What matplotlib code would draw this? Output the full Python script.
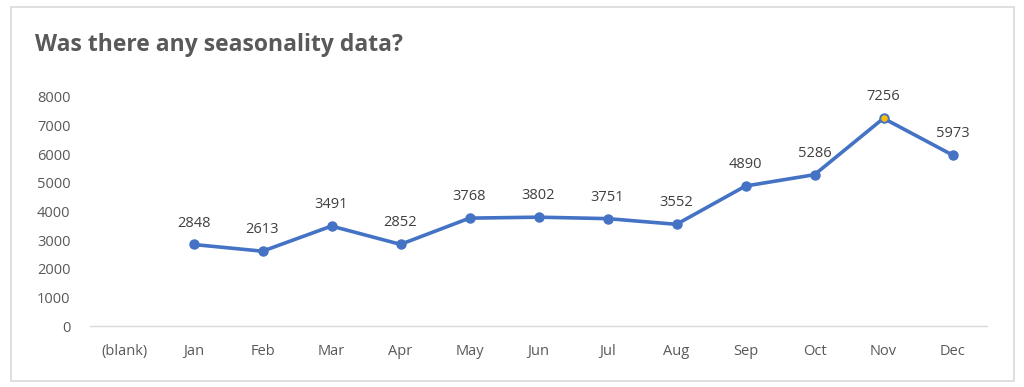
import matplotlib
matplotlib.use("Agg")
import matplotlib.pyplot as plt
from matplotlib.patches import Rectangle

categories = ["(blank)", "Jan", "Feb", "Mar", "Apr", "May", "Jun", "Jul", "Aug", "Sep", "Oct", "Nov", "Dec"]
values = [None, 2848, 2613, 3491, 2852, 3768, 3802, 3751, 3552, 4890, 5286, 7256, 5973]
yticks = [0, 1000, 2000, 3000, 4000, 5000, 6000, 7000, 8000]
title = "Was there any seasonality data?"
highlight = "Nov"

plt.rcParams['font.family'] = ['Open Sans', 'DejaVu Sans']

W, H = 1024, 387
fig = plt.figure(figsize=(W/100, H/100), dpi=100)
fig.patch.set_facecolor('white')
fig.add_artist(Rectangle((11/W, 1 - 381/H), (1014-11)/W, (381-7)/H, transform=fig.transFigure,
                         fill=False, edgecolor='#D9D9D9', linewidth=1.2))

ax = fig.add_axes([90/W, 1 - 326/H, (987-90)/W, (326-97)/H])
xs = [i for i, v in enumerate(values) if v is not None]
ys = [v for v in values if v is not None]
ax.plot(xs, ys, color='#4472C4', linewidth=2.6, marker='o', markersize=6.5,
        markerfacecolor='#4472C4', markeredgecolor='#4472C4', solid_capstyle='round')
hi = categories.index(highlight)
ax.plot([hi], [values[hi]], marker='o', markersize=5.5, markerfacecolor='#FFC000',
        markeredgecolor='#4472C4', markeredgewidth=0.8, linestyle='none', zorder=5)
for x, y in zip(xs, ys):
    ax.annotate(str(y), (x, y), xytext=(0, 10), textcoords='offset points', ha='center',
                va='bottom', fontsize=10.5, color='#404040')

ax.set_xlim(-0.5, len(categories) - 0.5)
ax.set_ylim(0, 8000)
ax.set_xticks(range(len(categories)))
ax.set_xticklabels(categories)
ax.set_yticks(yticks)
ax.tick_params(axis='both', length=0, labelsize=10.5, labelcolor='#595959')
ax.tick_params(axis='x', pad=13)
ax.tick_params(axis='y', pad=14)
for s in ['top', 'right', 'left']:
    ax.spines[s].set_visible(False)
ax.spines['bottom'].set_color('#D9D9D9')
ax.spines['bottom'].set_linewidth(1.0)
ax.set_facecolor('none')

fig.text(35/W, 1 - 45/H, title, fontsize=16.5, fontweight='bold', color='#595959', va='center', ha='left')

fig.savefig("out.png", dpi=100)
